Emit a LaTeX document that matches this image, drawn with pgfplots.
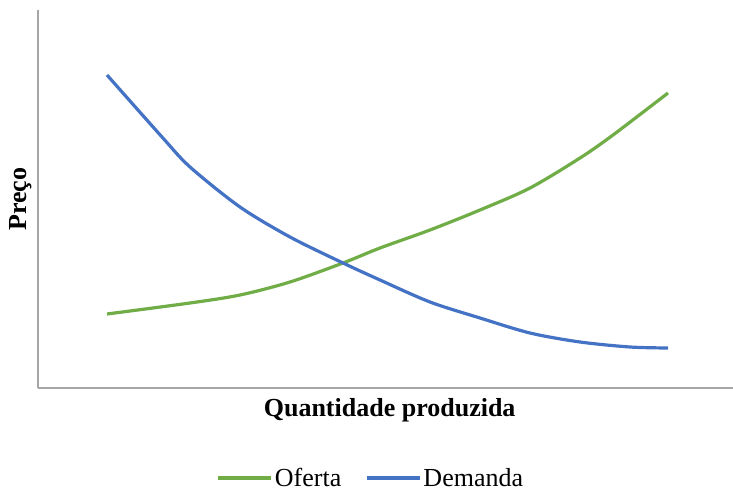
\documentclass[border=0pt]{standalone}
\usepackage{pgfplots}
\pgfplotsset{compat=1.18}
\usepackage{fontspec}
\setmainfont{Liberation Serif}
\definecolor{oferta}{HTML}{70AD47}
\definecolor{demanda}{HTML}{4472C4}
\definecolor{eixo}{HTML}{A6A6A6}
\begin{document}
\begin{tikzpicture}
\begin{axis}[
  scale only axis, width=695pt, height=378pt,
  xmin=38, xmax=733, ymin=104, ymax=482,
  axis lines*=left, axis line style={eixo, line width=1.5pt, -},
  xtick=\empty, ytick=\empty, clip=false,
  xlabel={\bfseries Quantidade produzida}, ylabel={\bfseries Preço},
  label style={font=\fontsize{26}{30}\selectfont},
  xlabel style={at={(axis description cs:0.506,-0.058)}, anchor=center},
  ylabel style={at={(axis description cs:-0.025,0.5)}, anchor=center},
  legend columns=2,
  legend style={draw=none, fill=none, font=\fontsize{26}{30}\selectfont,
    at={(axis description cs:0.479,-0.238)}, anchor=center,
    /tikz/every even column/.append style={column sep=22pt}},
  legend image code/.code={\draw[#1] (0pt,0pt) -- (53pt,0pt);},
]
\addplot[oferta, line width=3.2pt, smooth] coordinates {
 (107,178) (190,189) (240,197) (290,210) (343,229) (380,244) (430,262) (480,282) (530,304) (580,334) (613,357) (668,399)};
\addlegendentry{Oferta}
\addplot[demanda, line width=3.2pt, smooth] coordinates {
 (107,417) (162,355) (190,325) (240,285) (290,255) (343,229) (380,212) (430,190) (480,174) (530,159) (580,150) (630,145) (668,144)};
\addlegendentry{Demanda}
\coordinate (bl) at (axis cs:0,0);
\coordinate (tr) at (axis cs:733,492);
\end{axis}
\pgfresetboundingbox
\path (bl) rectangle (tr);
\end{tikzpicture}
\end{document}
